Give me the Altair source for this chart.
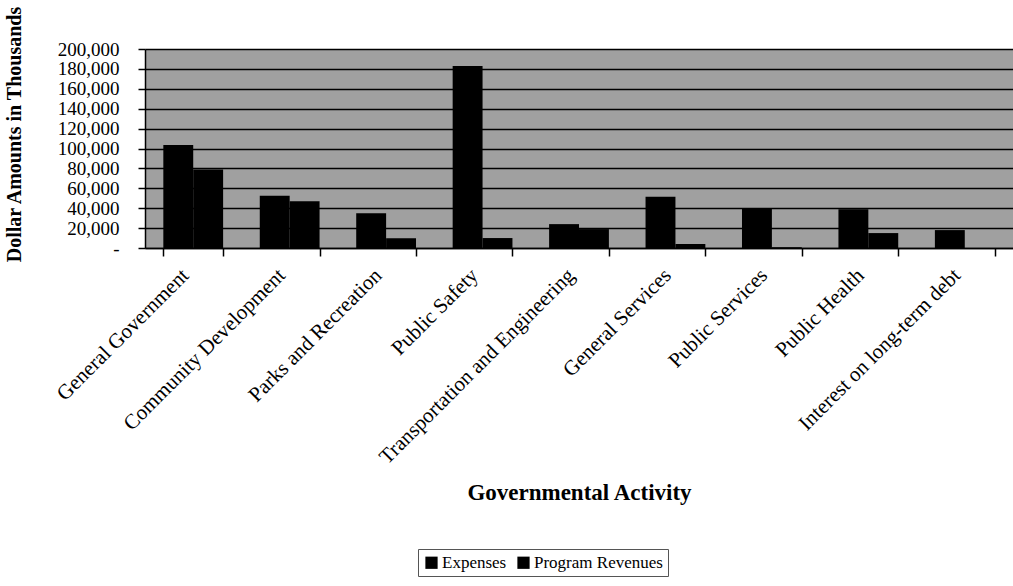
import altair as alt
import pandas as pd

# Governmental activities: expenses vs. program revenues (dollar amounts in thousands)
categories = [
    "General Government",
    "Community Development",
    "Parks and Recreation",
    "Public Safety",
    "Transportation and Engineering",
    "General Services",
    "Public Services",
    "Public Health",
    "Interest on long-term debt",
]
series_names = ["Expenses", "Program Revenues"]
expenses = [103500, 52500, 35000, 183000, 24000, 51500, 40000, 39000, 18000]
program_revenues = [79000, 47000, 9700, 10000, 19000, 4000, 800, 15000, 0]
y_ticks = list(range(0, 200001, 20000))

rows = []
for cat, exp, rev in zip(categories, expenses, program_revenues):
    rows.append({"activity": cat, "series": series_names[0], "amount": exp})
    rows.append({"activity": cat, "series": series_names[1], "amount": rev})
df = pd.DataFrame(rows)

FONT = "Liberation Serif"

chart = (
    alt.Chart(df)
    .mark_bar()
    .encode(
        x=alt.X(
            "activity:N",
            sort=categories,
            scale=alt.Scale(paddingInner=0.38, paddingOuter=0.19),
            axis=alt.Axis(
                title="Governmental Activity",
                labelAngle=315,
                labelAlign="right",
                labelBaseline="middle",
                labelPadding=16,
                labelOffset=-8,
                labelFont=FONT,
                labelFontSize=21,
                labelColor="black",
                labelLimit=400,
                labelOverlap=False,
                tickBand="extent",
                tickSize=8,
                tickColor="black",
                tickWidth=1.5,
                domainColor="black",
                domainWidth=1.5,
                grid=False,
                titleFont=FONT,
                titleFontSize=23,
                titleFontWeight="bold",
                titleColor="black",
                titleBaseline="middle",
                titleY=244,
            ),
        ),
        xOffset=alt.XOffset("series:N", sort=series_names),
        y=alt.Y(
            "amount:Q",
            scale=alt.Scale(domain=[0, 200000], nice=False),
            axis=alt.Axis(
                title="Dollar Amounts in Thousands",
                values=y_ticks,
                labelExpr="datum.value == 0 ? '-' : format(datum.value, ',')",
                labelOverlap=False,
                labelFont=FONT,
                labelFontSize=19,
                labelColor="black",
                labelPadding=19,
                tickSize=7,
                tickColor="black",
                tickWidth=1.5,
                domainColor="black",
                domainWidth=1.5,
                grid=True,
                gridColor="black",
                gridWidth=1.5,
                gridOpacity=1,
                titleFont=FONT,
                titleFontSize=20,
                titleFontWeight="bold",
                titleColor="black",
                titleAngle=270,
                titleAlign="center",
                titleBaseline="middle",
                titleX=-131,
                titleY=85,
            ),
        ),
        color=alt.Color(
            "series:N",
            sort=series_names,
            scale=alt.Scale(domain=series_names, range=["black", "black"]),
            legend=alt.Legend(
                title=None,
                orient="none",
                direction="horizontal",
                legendX=273,
                legendY=500,
                symbolType="square",
                symbolSize=150,
                symbolStrokeWidth=0,
                labelFont=FONT,
                labelFontSize=17,
                labelColor="black",
                labelOffset=2,
                columnPadding=8,
                padding=5,
                strokeColor="#555555",
                fillColor="white",
            ),
        ),
    )
    .properties(
        width=868,
        height=199,
        autosize=alt.AutoSizeParams(type="none"),
        padding={"left": 145, "top": 49, "right": 0, "bottom": 338},
        background="white",
    )
    .configure_view(fill="#a0a0a0", strokeOpacity=0)
)

chart.save("out.html", embed_options={"renderer": "svg", "actions": False})
